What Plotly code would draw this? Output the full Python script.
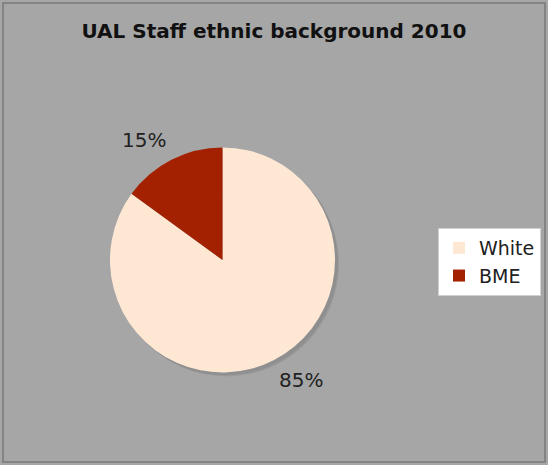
import math
import plotly.graph_objects as go

W, H = 548, 465

categories = ["White", "BME"]
values = [85, 15]
colors = ["#FEE8D4", "#A32100"]
title_text = "UAL Staff ethnic background 2010"

# pie geometry (pixels)
cx, cy, r = 222.5, 260, 112.5
sh = 3  # shadow offset
label_gap = 7

def dom(cx, cy, r):
    return dict(x=[(cx - r) / W, (cx + r) / W],
                y=[1 - (cy + r) / H, 1 - (cy - r) / H])

fig = go.Figure()
# soft shadow
fig.add_trace(go.Pie(labels=["shadow2"], values=[1], domain=dom(cx + sh + 1, cy + sh + 1, r),
                     marker=dict(colors=["#9b9b9b"], line=dict(width=0)),
                     textinfo="none", showlegend=False, hoverinfo="skip", sort=False))
fig.add_trace(go.Pie(labels=["shadow"], values=[1], domain=dom(cx + sh, cy + sh, r),
                     marker=dict(colors=["#8f8f8f"], line=dict(width=0)),
                     textinfo="none", showlegend=False, hoverinfo="skip", sort=False))
fig.add_trace(go.Pie(
    labels=categories, values=values, domain=dom(cx, cy, r),
    sort=False, direction="clockwise", rotation=0,
    marker=dict(colors=colors, line=dict(width=0)),
    textinfo="none",
    hoverinfo="label+percent",
))

# percentage labels outside the slices (positions derived from the values)
total = sum(values)
annotations = []
cum = 0
for v in values:
    mid = (cum + v / 2) / total * 2 * math.pi  # clockwise from 12 o'clock
    cum += v
    dx = math.sin(mid)
    dy = -math.cos(mid)  # screen y downward
    px = cx + (r + label_gap) * dx
    py = cy + (r + label_gap) * dy
    annotations.append(dict(
        x=px / W, y=1 - py / H, xref="paper", yref="paper",
        text=f"{round(v / total * 100)}%", showarrow=False,
        xanchor="left" if dx >= 0 else "right",
        yanchor="top" if dy >= 0 else "bottom",
        font=dict(family="DejaVu Sans", size=20, color="#222222"),
    ))

fig.update_layout(
    width=W, height=H,
    margin=dict(l=0, r=0, t=0, b=0),
    paper_bgcolor="#A6A6A6",
    title=dict(text="<b>" + title_text + "</b>", x=0.5, xanchor="center",
               y=1 - 31 / H, yanchor="middle",
               font=dict(family="DejaVu Sans", size=20, color="#111111")),
    legend=dict(x=438 / W, y=1 - 228 / H, xanchor="left", yanchor="top",
                bgcolor="#FFFFFF", bordercolor="#D0D0D0", borderwidth=1,
                font=dict(family="DejaVu Sans", size=19, color="#222222"),
                itemwidth=30, tracegroupgap=0),
    annotations=annotations,
    shapes=[dict(type="rect", xref="paper", yref="paper",
                 x0=3 / W, x1=1 - 3 / W, y0=3 / H, y1=1 - 3 / H,
                 line=dict(color="#7a7a7a", width=1.5), layer="above")],
)

fig.write_html("out.html", config={"displayModeBar": False},
               post_script="document.body.style.margin='0';document.body.style.overflow='hidden';")
